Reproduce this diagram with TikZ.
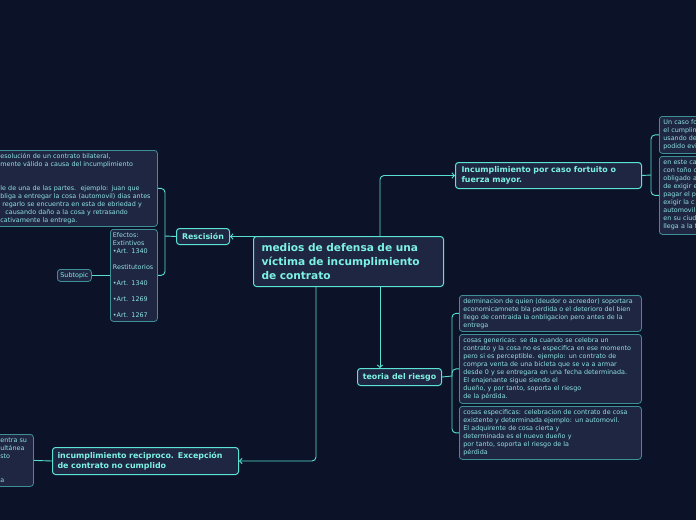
\documentclass[tikz,border=0pt]{standalone}
\usepackage{fontspec}
\setmainfont{DejaVu Sans}
\usetikzlibrary{arrows.meta,backgrounds}
\definecolor{bgc}{HTML}{0C1328}
\definecolor{nodefill}{HTML}{1F2642}
\definecolor{mainborder}{HTML}{5BE3D5}
\definecolor{linec}{HTML}{58DFD2}
\definecolor{titlec}{HTML}{7DF2E4}
\definecolor{smallc}{HTML}{8EE3E2}
\definecolor{boxborder}{HTML}{3F9096}
\begin{document}
\begin{tikzpicture}[x=1pt,y=-1pt,
  mainnode/.style={draw=mainborder, fill=nodefill, rounded corners=3pt, line width=1pt,
    text=titlec, font=\bfseries\fontsize{7.9}{10.5}\selectfont, align=left, anchor=north west, inner ysep=1pt},
  textbox/.style={draw=boxborder, fill=nodefill, rounded corners=3pt, line width=0.8pt,
    text=smallc, font=\fontsize{6.4}{8}\selectfont, align=left, anchor=north west, inner ysep=1pt},
  conn/.style={draw=linec, line width=0.9pt, rounded corners=4pt},
  arr/.style={conn, -{Straight Barb[length=2.5pt,width=5.5pt]}}
]
\useasboundingbox (0,0) rectangle (696,520);

% main nodes
\node[mainnode, minimum height=50pt, text width=176pt, inner xsep=7pt,
  font=\bfseries\fontsize{10.6}{14}\selectfont] (central) at (253,236)
  {\hspace*{1pt}medios de defensa de una\\\hspace*{1pt}víctima de incumplimiento\\\hspace*{1pt}de contrato};
\node[mainnode, minimum height=26pt, text width=176pt, inner xsep=5pt] (fortuito) at (455,162)
  {\hspace*{1pt}Incumplimiento por caso fortuito o\\\hspace*{1pt}fuerza mayor.};
\node[mainnode, minimum width=53pt, minimum height=16pt, align=center, inner xsep=1pt] (rescision) at (176,228)
  {Rescisión};
\node[mainnode, minimum width=84pt, minimum height=17pt, align=center, inner xsep=1pt] (teoria) at (357,368)
  {teoria del riesgo};
\node[mainnode, minimum height=27pt, text width=178pt, inner xsep=4pt] (incump) at (52,447)
  {\hspace*{1pt}incumplimiento reciproco. Excepción\\\hspace*{1pt}de contrato no cumplido};

% text boxes
\node[textbox, minimum height=76pt, text width=155pt, inner xsep=3pt] (box1) at (-4,150)
  {\hspace*{1pt}esolución de un contrato bilateral,\\\hspace*{1pt}mente válido a causa del incumplimiento\\\mbox{}\\\mbox{}\\\hspace*{1pt}le de una de las partes.\ \ ejemplo: juan que\\\hspace*{1pt}bliga a entregar la cosa (automovil) dias antes\\\hspace*{3pt}regarlo se encuentra en esta de ebriedad y\\\hspace*{6pt}causando daño a la cosa y retrasando\\\hspace*{1pt}cativamente la entrega.};
\node[textbox, minimum height=92pt, text width=42pt, inner xsep=2.5pt] (efectos) at (110,229)
  {Efectos:\\Extintivos\\•Art. 1340\\\mbox{}\\Restitutorios\\\mbox{}\\•Art. 1340\\\mbox{}\\•Art. 1269\\\mbox{}\\•Art. 1267};
\node[textbox, minimum width=34pt, minimum height=12pt, align=center, inner xsep=0.5pt, text=titlec] (subtopic) at (57,269)
  {Subtopic};
\node[textbox, minimum height=37pt, text width=42pt, inner xsep=4pt] (boxA) at (659,116)
  {Un caso fo\\el cumplin\\usando de\\podido evi};
\node[textbox, minimum height=78pt, text width=42pt, inner xsep=4pt] (boxB) at (659,156)
  {en este ca\\con toño o\\obligado a\\de exigir e\\pagar el p\\exigir la c\\automovil\\en su ciud\\llega a la f};
\node[textbox, minimum height=36pt, text width=176pt, inner xsep=3pt] (tb1) at (459,295)
  {\hspace*{1pt}derminacion de quien (deudor o acreedor) soportara\\\hspace*{1pt}economicamnete bla perdida o el deterioro del bien\\\hspace*{1pt}llego de contraida la onbligacion pero antes de la\\\hspace*{1pt}entrega};
\node[textbox, minimum height=69pt, text width=176pt, inner xsep=3pt] (tb2) at (459,334)
  {\hspace*{1pt}cosas genericas: se da cuando se celebra un\\\hspace*{1pt}contrato y la cosa no es especifica en ese momento\\\hspace*{1pt}pero si es perceptible. ejemplo: un contrato de\\\hspace*{1pt}compra venta de una bicleta que se va a armar\\\hspace*{1pt}desde 0 y se entregara en una fecha determinada.\\\hspace*{1pt}El enajenante sigue siendo el\\\hspace*{1pt}dueño, y por tanto, soporta el riesgo\\\hspace*{1pt}de la pérdida.};
\node[textbox, minimum height=53pt, text width=176pt, inner xsep=3pt] (tb3) at (459,406)
  {\hspace*{1pt}cosas especificas: celebracion de contrato de cosa\\\hspace*{1pt}existente y determinada ejemplo: un automovil.\\\hspace*{1pt}El adquirente de cosa cierta y\\\hspace*{1pt}determinada es el nuevo dueño y\\\hspace*{1pt}por tanto, soporta el riesgo de la\\\hspace*{1pt}pérdida};
\node[textbox, minimum height=52pt, text width=29pt, inner xsep=4pt] (box4) at (-4,434)
  {entra su\\ultánea\\sto\\\mbox{}\\\mbox{}\\a};

\coordinate (cA) at (380,261);
\coordinate (cB) at (316,261);
\coordinate (jR) at (165,236);
\coordinate (jF) at (651,175);
\coordinate (jT) at (452,376);

\begin{pgfonlayer}{background}
\fill[bgc] (0,0) rectangle (696,520);
\draw[arr] (cA) |- (fortuito.west);
\draw[arr] (cA) -- (cA |- teoria.north);
\draw[arr] (cB) |- (rescision.east);
\draw[arr] (cB) |- (incump.east);
\draw[conn] (rescision.west) -- (jR);
\draw[conn] (jR) |- (box1.east);
\draw[conn] (jR) |- (efectos.east);
\draw[conn] (efectos.west) -- (subtopic.east);
\draw[conn] (fortuito.east) -- (jF);
\draw[conn] (jF) |- (boxA.west);
\draw[conn] (jF) |- (boxB.west);
\draw[conn] (teoria.east) -- (jT);
\draw[conn] (jT) |- (tb1.west);
\draw[conn] (jT) |- (tb2.west);
\draw[conn] (jT) |- (tb3.west);
\draw[conn] (incump.west) -- (box4.east);
\end{pgfonlayer}
\end{tikzpicture}
\end{document}
